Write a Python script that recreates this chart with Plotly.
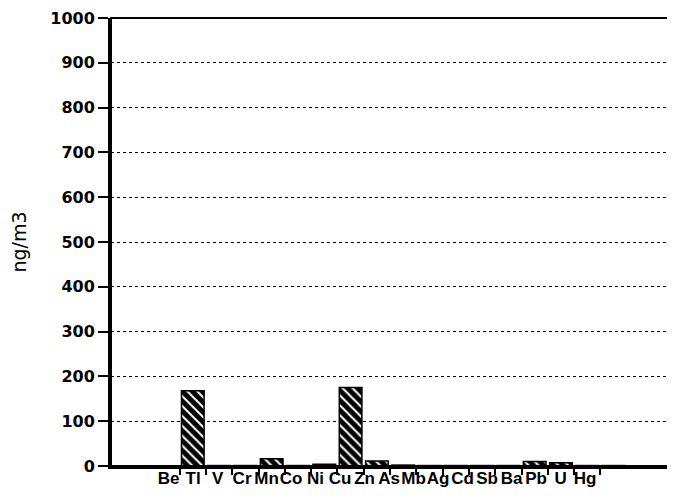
import plotly.graph_objects as go

elements = ["Be", "Tl", "V", "Cr", "Mn", "Co", "Ni", "Cu", "Zn", "As",
            "Mb", "Ag", "Cd", "Sb", "Ba", "Pb", "U", "Hg"]
conc_ng_m3 = [0, 168, 1, 1, 16, 1, 4, 175, 11, 2,
              1, 1, 1, 1, 10, 7, 1, 1]
y_ticks = [0, 100, 200, 300, 400, 500, 600, 700, 800, 900, 1000]

idx = list(range(len(elements)))
boundaries = [i + 0.5 for i in idx[:-1]]

fig = go.Figure()
fig.add_trace(go.Bar(
    x=idx, y=conc_ng_m3, width=0.86,
    marker=dict(color="black", line=dict(color="black", width=1.5),
                pattern=dict(shape="\\", fgcolor="white", bgcolor="black",
                             solidity=0.28, size=7, fillmode="replace")),
    showlegend=False, hoverinfo="skip",
))
# invisible companion trace so the label axis is drawn
fig.add_trace(go.Scatter(
    x=idx, y=conc_ng_m3, xaxis="x2", mode="markers",
    marker=dict(opacity=0), showlegend=False, hoverinfo="skip",
))

fig.update_layout(
    width=675, height=500,
    margin=dict(l=103, r=11, t=10, b=42, autoexpand=False),
    paper_bgcolor="white", plot_bgcolor="white",
    bargap=0.14,
    xaxis=dict(range=[-2.11, 19.22], tickvals=boundaries, showticklabels=False,
               ticks="outside", ticklen=6, tickwidth=2, tickcolor="black",
               showline=True, linewidth=3, linecolor="black", showgrid=False,
               zeroline=False, automargin=False),
    xaxis2=dict(overlaying="x", side="bottom", range=[-2.35, 20.55],
                tickvals=idx, ticktext=elements, showline=False, ticks="",
                tickangle=0, showgrid=False, zeroline=False, automargin=False,
                ticklabeloverflow="allow",
                tickfont=dict(family="Liberation Sans, Arial", size=17,
                              color="black", weight="bold")),
    yaxis=dict(range=[0, 1000], tickvals=y_ticks,
               ticks="outside", ticklen=10, tickwidth=2, tickcolor="black",
               showline=True, linewidth=3, linecolor="black",
               showgrid=True, gridcolor="black", gridwidth=1.2, griddash="dot",
               zeroline=False, automargin=False, ticklabeloverflow="allow",
               tickfont=dict(family="DejaVu Sans", size=16,
                             color="black", weight="bold"),
               title=dict(text="ng/m3",
                          font=dict(family="DejaVu Sans", size=19, color="black"),
                          standoff=38)),
    shapes=[dict(type="rect", xref="paper", yref="paper", x0=0, x1=1, y0=0, y1=1,
                 line=dict(color="black", width=2), layer="above")],
)

fig.write_html("out.html")
